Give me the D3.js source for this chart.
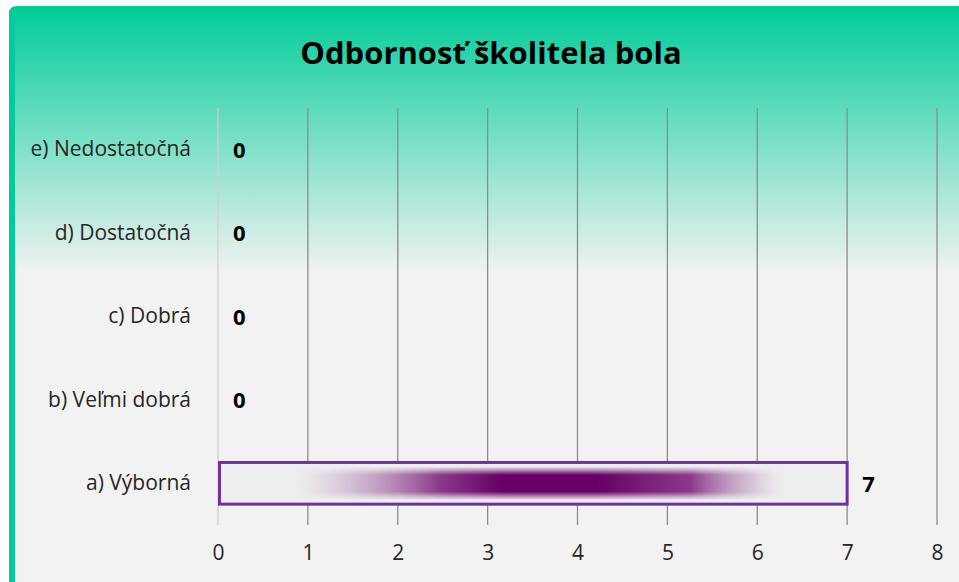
<!DOCTYPE html>
<html>
<head>
<meta charset="utf-8">
<script src="https://cdn.jsdelivr.net/npm/d3@7"></script>
<style>
  body { margin: 0; background: #ffffff; }
  svg { display: block; font-family: "Open Sans", sans-serif; }
</style>
</head>
<body>
<svg width="959" height="582"></svg>
<script>
var categories = ["a) Výborná", "b) Veľmi dobrá", "c) Dobrá", "d) Dostatočná", "e) Nedostatočná"];
var counts = [7, 0, 0, 0, 0];
var xTicks = [0, 1, 2, 3, 4, 5, 6, 7, 8];
var title = "Odbornosť školitela bola";

function main() {
    var svg = d3.select("svg");
    var defs = svg.append("defs");

    // background: teal at top fading to light gray
    var bg = defs.append("linearGradient").attr("id", "bg")
        .attr("x1", 0).attr("y1", 0).attr("x2", 0).attr("y2", 1);
    bg.append("stop").attr("offset", "0").attr("stop-color", "#00cc99");
    bg.append("stop").attr("offset", "0.46").attr("stop-color", "#f2f2f2");
    bg.append("stop").attr("offset", "1").attr("stop-color", "#f2f2f2");

    // bar fill: horizontal purple tube, faded at both ends
    var hGrad = defs.append("linearGradient").attr("id", "barH")
        .attr("x1", 0).attr("y1", 0).attr("x2", 1).attr("y2", 0);
    [[0, "#eeeeee", 0], [0.12, "#d8c8d8", 0], [0.2, "#c8a8c8", 0.6], [0.35, "#8a3a8a", 1],
     [0.45, "#660066", 1], [0.6, "#660066", 1], [0.75, "#8a3a8a", 1], [0.85, "#c8a8c8", 0.6],
     [0.9, "#e0d0e0", 0], [1, "#eeeeee", 0]].forEach(function (s) {
        hGrad.append("stop").attr("offset", s[0]).attr("stop-color", s[1]).attr("stop-opacity", s[2]);
    });
    var vGrad = defs.append("linearGradient").attr("id", "barV")
        .attr("x1", 0).attr("y1", 0).attr("x2", 0).attr("y2", 1);
    [[0, 0], [0.1, 0], [0.3, 1], [0.7, 1], [0.9, 0], [1, 0]].forEach(function (s) {
        vGrad.append("stop").attr("offset", s[0]).attr("stop-color", "#fff").attr("stop-opacity", s[1]);
    });
    var mask = defs.append("mask").attr("id", "barMask")
        .attr("maskContentUnits", "objectBoundingBox");
    mask.append("rect").attr("width", 1).attr("height", 1).attr("fill", "url(#barV)");

    svg.append("path")
        .attr("d", "M9,586 V14 Q9,6 17,6 H965 V586 Z")
        .attr("fill", "url(#bg)");
    svg.append("rect").attr("x", 9).attr("y", 10).attr("width", 6).attr("height", 580)
        .attr("fill", "#00cc99");

    svg.append("text")
        .attr("x", 491).attr("y", 64)
        .attr("text-anchor", "middle")
        .attr("font-size", "31px").attr("font-weight", "bold")
        .attr("fill", "#000")
        .text(title);

    var left = 218, right = 937, top = 108, bottom = 525;
    var xScale = d3.scaleLinear().domain([0, 8]).range([left, right]);
    var yScale = d3.scaleBand().domain(categories).range([bottom, top]).paddingInner(0.5).paddingOuter(0.25);

    // gridlines
    svg.append("g").selectAll("line")
        .data(xTicks).enter().append("line")
        .attr("x1", d => xScale(d)).attr("x2", d => xScale(d))
        .attr("y1", top).attr("y2", bottom)
        .attr("stroke", d => d === 0 ? "#d0d0d0" : "#8c8c8c")
        .attr("stroke-width", 1.3);

    // x axis labels
    var xAxis = svg.append("g").attr("transform", "translate(0," + bottom + ")")
        .call(d3.axisBottom(xScale).tickValues(xTicks).tickSize(0).tickPadding(20));
    xAxis.select(".domain").remove();
    xAxis.selectAll("text").attr("font-size", "21px").attr("fill", "#262626")
        .attr("font-family", "Open Sans, sans-serif");

    // y axis labels
    var yAxis = svg.append("g").attr("transform", "translate(" + left + ",0)")
        .call(d3.axisLeft(yScale).tickSize(0).tickPadding(27));
    yAxis.select(".domain").remove();
    yAxis.selectAll("text").attr("font-size", "21px").attr("fill", "#262626")
        .attr("font-family", "Open Sans, sans-serif");

    // bars
    var bars = svg.append("g").selectAll("g")
        .data(categories.filter((c, i) => counts[i] > 0)).enter().append("g");
    bars.append("rect")
        .attr("x", xScale(0) + 1.5)
        .attr("y", d => yScale(d))
        .attr("width", d => xScale(counts[categories.indexOf(d)]) - xScale(0) - 1.5)
        .attr("height", yScale.bandwidth())
        .attr("fill", "#eeeeee");
    bars.append("rect")
        .attr("x", xScale(0) + 1.5)
        .attr("y", d => yScale(d))
        .attr("width", d => xScale(counts[categories.indexOf(d)]) - xScale(0) - 1.5)
        .attr("height", yScale.bandwidth())
        .attr("fill", "url(#barH)")
        .attr("mask", "url(#barMask)");
    bars.append("rect")
        .attr("x", xScale(0) + 1.5)
        .attr("y", d => yScale(d))
        .attr("width", d => xScale(counts[categories.indexOf(d)]) - xScale(0) - 1.5)
        .attr("height", yScale.bandwidth())
        .attr("fill", "none")
        .attr("stroke", "#7030a0")
        .attr("stroke-width", 3);

    // value labels
    svg.append("g").selectAll("text")
        .data(categories).enter().append("text")
        .attr("x", (d, i) => xScale(counts[i]) + 15)
        .attr("y", d => yScale(d) + yScale.bandwidth() / 2)
        .attr("dy", "0.38em")
        .attr("font-size", "22px").attr("font-weight", "bold")
        .attr("fill", "#000")
        .text((d, i) => counts[i]);
}
main();
</script>
</body>
</html>
